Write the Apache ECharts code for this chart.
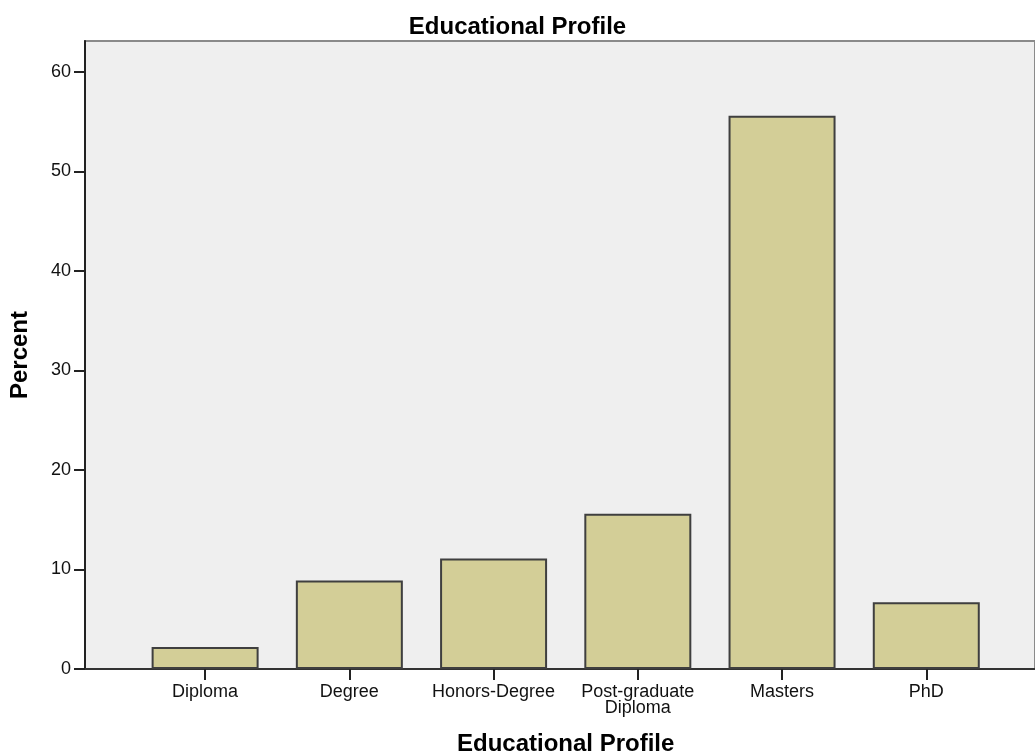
<!DOCTYPE html>
<html>
<head>
<meta charset="utf-8">
<script src="https://cdn.jsdelivr.net/npm/echarts@6/dist/echarts.min.js"></script>
<style>html,body{margin:0;padding:0;background:#fff}#c{width:1035px;height:756px}</style>
</head>
<body>
<div id="c"></div>
<script>
const categories = ['Diploma', 'Degree', 'Honors-Degree', 'Post-graduate\nDiploma', 'Masters', 'PhD'];
const percentValues = [2.2, 8.9, 11.1, 15.6, 55.6, 6.7];
const yTicks = [0, 10, 20, 30, 40, 50, 60];

const FONT = '"Liberation Sans", Arial, sans-serif';
const chart = echarts.init(document.getElementById('c'), null, {renderer: 'canvas'});
chart.setOption({
  animation: false,
  backgroundColor: '#ffffff',
  textStyle: {fontFamily: FONT},
  title: [
    {text: 'Educational Profile', left: 'center', top: 10,
     textStyle: {fontFamily: FONT, fontSize: 24, fontWeight: 'bold', color: '#000'}}
  ],
  grid: [
    {left: 85, top: 41, right: 0, bottom: 87, show: true, backgroundColor: '#efefef',
     borderColor: '#8a8a8a', borderWidth: 2, outerBoundsMode: 'none', containLabel: false},
    {left: 133, top: 41, right: 36.6, bottom: 87, outerBoundsMode: 'none', containLabel: false}
  ],
  xAxis: [
    {type: 'value', gridIndex: 0, min: 0, max: 1,
     axisLine: {show: true, onZero: false, lineStyle: {color: '#333', width: 2}},
     axisTick: {show: false}, axisLabel: {show: false}, splitLine: {show: false}},
    {type: 'category', gridIndex: 1, data: categories,
     name: 'Educational Profile', nameLocation: 'middle', nameGap: 63,
     nameTextStyle: {fontFamily: FONT, fontSize: 24, fontWeight: 'bold', color: '#000', verticalAlign: 'top'},
     axisLine: {show: false},
     axisTick: {show: true, alignWithLabel: true, length: 11, lineStyle: {color: '#222', width: 2}},
     axisLabel: {fontFamily: FONT, fontSize: 18, color: '#111', margin: 15, lineHeight: 16, interval: 0},
     splitLine: {show: false}}
  ],
  yAxis: [
    {type: 'value', gridIndex: 0, min: 0, max: 63.1, interval: 10,
     name: 'Percent', nameLocation: 'middle', nameGap: 53, nameRotate: 90,
     nameTextStyle: {fontFamily: FONT, fontSize: 24, fontWeight: 'bold', color: '#000'},
     axisLine: {show: true, lineStyle: {color: '#222', width: 2}},
     axisTick: {show: true, length: 11, customValues: yTicks, lineStyle: {color: '#222', width: 2}},
     axisLabel: {fontFamily: FONT, fontSize: 18, color: '#111', margin: 14, customValues: yTicks},
     splitLine: {show: false}},
    {type: 'value', gridIndex: 1, min: 0, max: 63.1, show: false, splitLine: {show: false}}
  ],
  series: [{
    type: 'bar', xAxisIndex: 1, yAxisIndex: 1, data: percentValues,
    barWidth: 107,
    itemStyle: {color: '#d3ce97', borderColor: '#3f3f3f', borderWidth: 2}
  }]
});
</script>
</body>
</html>
